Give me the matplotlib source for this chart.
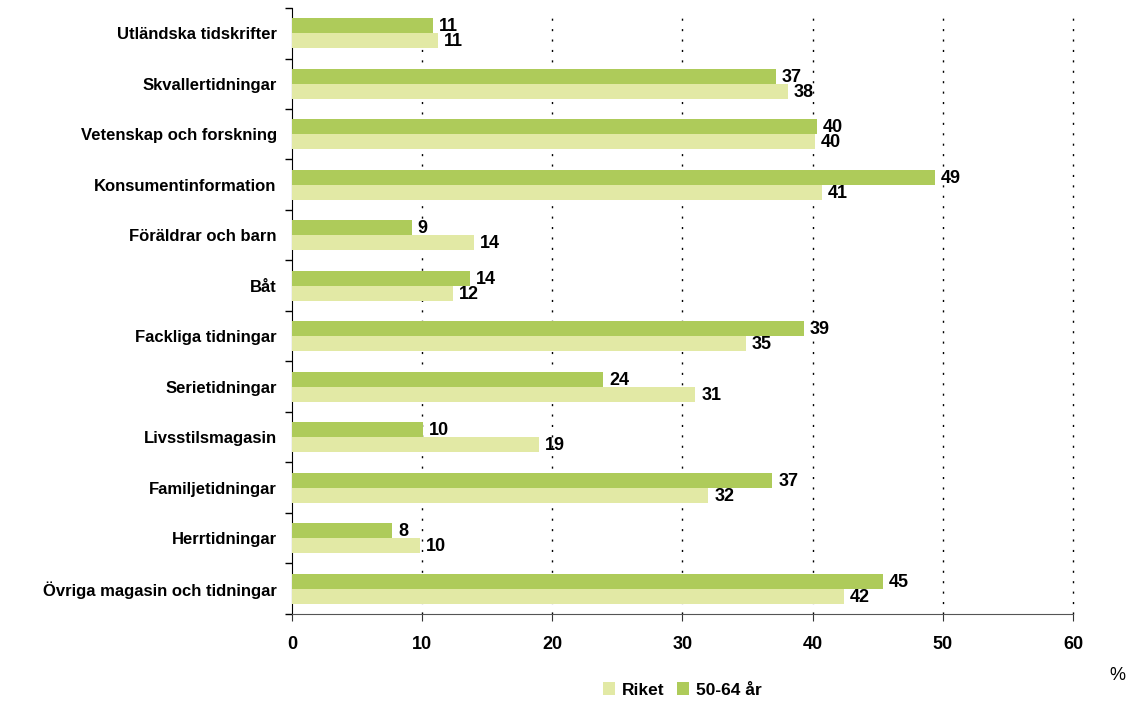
import matplotlib
matplotlib.use("Agg")
import matplotlib.pyplot as plt
import numpy as np
from matplotlib.patches import Patch

plt.rcParams['font.family'] = ['Liberation Sans', 'DejaVu Sans']

categories = ["Utländska tidskrifter", "Skvallertidningar", "Vetenskap och forskning",
              "Konsumentinformation", "Föräldrar och barn", "Båt", "Fackliga tidningar",
              "Serietidningar", "Livsstilsmagasin", "Familjetidningar", "Herrtidningar",
              "Övriga magasin och tidningar"]
age_50_64 = [10.8, 37.2, 40.3, 49.4, 9.2, 13.7, 39.3, 23.9, 10.1, 36.9, 7.7, 45.4]
riket = [11.2, 38.1, 40.2, 40.7, 14.0, 12.4, 34.9, 31.0, 19.0, 32.0, 9.8, 42.4]
xticks = [0, 10, 20, 30, 40, 50, 60]

c_green = "#AECB5A"
c_light = "#E2E9A5"

fig = plt.figure(figsize=(11.33, 7.02), dpi=100)
ax = fig.add_axes([0.2577, 0.1254, 0.947 - 0.2577, 0.9886 - 0.1254])

n = len(categories)
y = np.arange(n)
h = 0.3
ax.barh(y - h / 2, age_50_64, height=h, color=c_green, zorder=3)
ax.barh(y + h / 2, riket, height=h, color=c_light, zorder=3)

for yi, v in zip(y, age_50_64):
    ax.text(v + 0.45, yi - h / 2 + 0.02, f"{v:.0f}", va="center", ha="left",
            fontsize=13, fontweight="bold", zorder=4)
for yi, v in zip(y, riket):
    ax.text(v + 0.45, yi + h / 2 + 0.02, f"{v:.0f}", va="center", ha="left",
            fontsize=13, fontweight="bold", zorder=4)

ax.set_ylim(n - 0.5, -0.5)
ax.set_xlim(0, 60)
ax.set_yticks(y)
ax.set_yticklabels(categories, fontsize=12, fontweight="bold")
ax.set_yticks(np.arange(n + 1) - 0.5, minor=True)
ax.tick_params(axis="y", which="major", length=0, pad=11)
ax.tick_params(axis="y", which="minor", length=5, direction="out", width=1)
ax.set_xticks(xticks)
ax.set_xticklabels([str(t) for t in xticks], fontsize=13, fontweight="bold")
ax.tick_params(axis="x", length=5, direction="out", pad=11, color="#333333")

for t in xticks[1:]:
    ax.axvline(t, ymax=0.997, color="black", linestyle=(0, (1.5, 6)), linewidth=1,
               zorder=1, clip_on=False)

for s in ["top", "right"]:
    ax.spines[s].set_visible(False)
ax.spines["left"].set_color("black")
ax.spines["bottom"].set_color("#555555")

fig.text(1117 / 1133, 1 - 675 / 702, "%", fontsize=13, ha="center", va="center")

handles = [Patch(facecolor=c_light, label="Riket"), Patch(facecolor=c_green, label="50-64 år")]
fig.legend(handles=handles, loc="center", bbox_to_anchor=(682 / 1133, 1 - 690 / 702),
           ncol=2, frameon=False, prop={"size": 12.5, "weight": "bold"},
           handlelength=0.7, handleheight=0.7, handletextpad=0.4, columnspacing=0.7)

fig.savefig("out.png", dpi=100)
